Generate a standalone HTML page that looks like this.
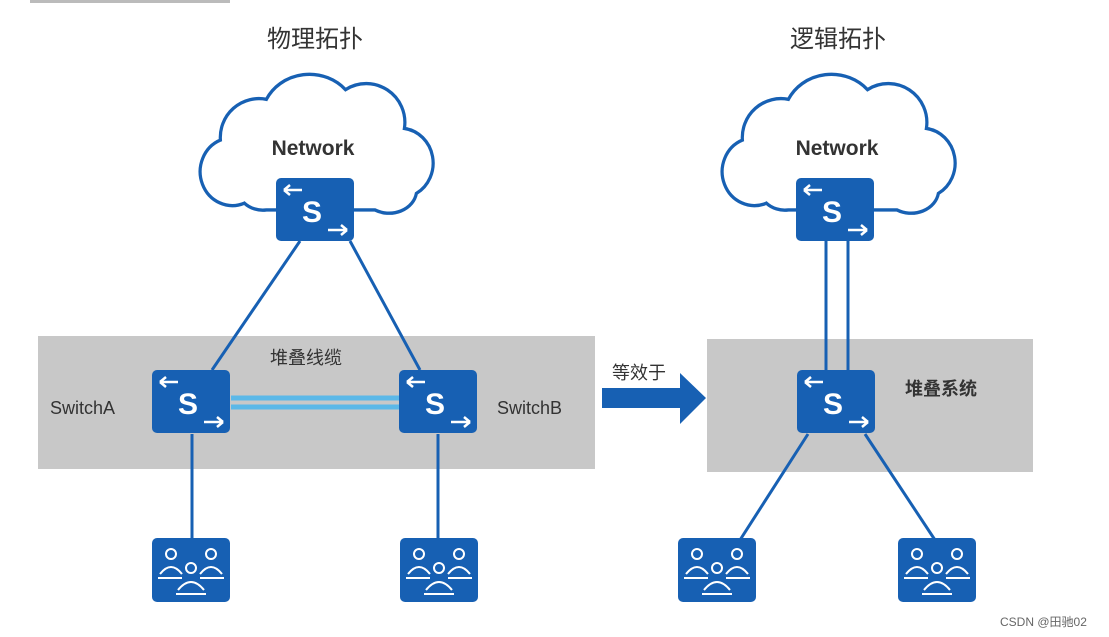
<!DOCTYPE html>
<html><head><meta charset="utf-8"><style>
html,body{margin:0;padding:0;background:#fff;width:1109px;height:637px;overflow:hidden}
svg{display:block}
text{font-family:"Liberation Sans","Noto Sans CJK SC",sans-serif}
</style></head><body>
<svg width="1109" height="637" viewBox="0 0 1109 637" xmlns="http://www.w3.org/2000/svg">
<defs>
<g id="sw">
<rect x="0" y="0" width="78" height="63" rx="5" fill="#1760b3"/>
<text x="36" y="44" font-size="30" font-weight="bold" fill="#fff" text-anchor="middle">S</text>
<path d="M8,12 L26,12 M8,12 l6,-5 M8,12 l6,5" stroke="#fff" stroke-width="2.5" fill="none"/>
<path d="M52,52 L71,52 M71,52 l-6,-5 M71,52 l-6,5" stroke="#fff" stroke-width="2.5" fill="none"/>
</g>
<g id="us">
<rect x="0" y="0" width="78" height="64" rx="5" fill="#1760b3"/>
<g fill="none" stroke="#fff" stroke-width="2">
<circle cx="19" cy="16" r="5"/><circle cx="59" cy="16" r="5"/><circle cx="39" cy="30" r="5"/>
<path d="M8,36 q11,-14 22,0 M48,36 q11,-14 22,0 M26,52 q13,-16 26,0"/>
<path d="M6,40 h24 M48,40 h24 M24,56 h30"/>
</g>
</g>
<path id="cloud" transform="translate(317,143) scale(0.92,0.97) translate(-317,-143)" d="M238,205 A33,33 0 0 1 212,140 A42,40 0 0 1 262,98 A52,46 0 0 1 348,88 A42,40 0 0 1 412,128 A36,36 0 0 1 425,195 A30,24 0 0 1 380,212 L262,212 A28,24 0 0 1 238,205 Z" fill="#fff" stroke="#1760b3" stroke-width="3.5"/>
</defs>

<rect x="30" y="0" width="200" height="3" fill="#777" opacity="0.5"/>

<text x="315" y="47" font-size="24" fill="#333" text-anchor="middle">物理拓扑</text>
<text x="838" y="47" font-size="24" fill="#333" text-anchor="middle">逻辑拓扑</text>

<rect x="38" y="336" width="557" height="133" fill="#c8c8c8"/>
<rect x="707" y="339" width="326" height="133" fill="#c8c8c8"/>

<use href="#cloud"/>
<use href="#cloud" transform="translate(522,0)"/>
<text x="313" y="155" font-size="21" font-weight="bold" fill="#333" text-anchor="middle">Network</text>
<text x="837" y="155" font-size="21" font-weight="bold" fill="#333" text-anchor="middle">Network</text>

<g stroke="#1760b3" stroke-width="3">
<line x1="300" y1="241" x2="212" y2="370"/>
<line x1="350" y1="241" x2="420" y2="370"/>
<line x1="192" y1="434" x2="192" y2="538"/>
<line x1="438" y1="434" x2="438" y2="538"/>
<line x1="826" y1="241" x2="826" y2="370"/>
<line x1="848" y1="241" x2="848" y2="370"/>
<line x1="808" y1="434" x2="740" y2="540"/>
<line x1="865" y1="434" x2="935" y2="540"/>
</g>
<g stroke="#5bb8e8" stroke-width="5">
<line x1="231" y1="398" x2="399" y2="398"/>
<line x1="231" y1="407" x2="399" y2="407"/>
</g>

<use href="#sw" x="276" y="178"/>
<use href="#sw" x="152" y="370"/>
<use href="#sw" x="399" y="370"/>
<use href="#sw" x="796" y="178"/>
<use href="#sw" x="797" y="370"/>

<use href="#us" x="152" y="538"/>
<use href="#us" x="400" y="538"/>
<use href="#us" x="678" y="538"/>
<use href="#us" x="898" y="538"/>

<text x="50" y="414" font-size="18" fill="#333">SwitchA</text>
<text x="497" y="414" font-size="18" fill="#333">SwitchB</text>
<text x="270" y="364" font-size="18" fill="#333">堆叠线缆</text>
<text x="905" y="395" font-size="18" font-weight="bold" fill="#333">堆叠系统</text>
<text x="612" y="379" font-size="18" fill="#333">等效于</text>

<path d="M602,388 L680,388 L680,373 L706,398 L680,424 L680,408 L602,408 Z" fill="#1760b3"/>

<text x="1000" y="626" font-size="12" fill="#666">CSDN @田驰02</text>
</svg>
</body></html>
